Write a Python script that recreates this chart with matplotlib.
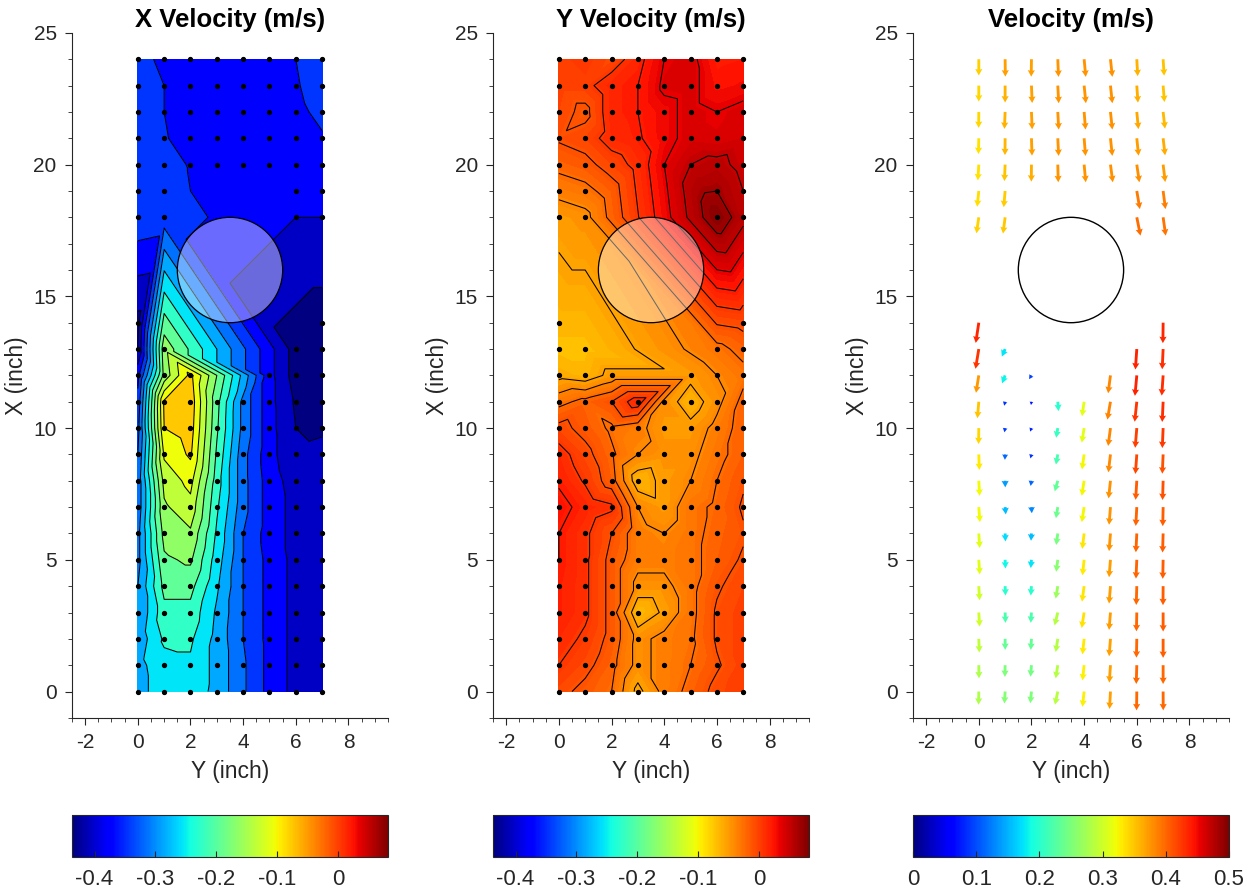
import numpy as np
import matplotlib.pyplot as plt
import matplotlib.tri as mtri
from matplotlib.patches import Circle
from matplotlib.colors import Normalize
from matplotlib.cm import ScalarMappable
from matplotlib.ticker import MultipleLocator

plt.rcParams['font.family'] = ['Liberation Sans', 'DejaVu Sans']
plt.rcParams['axes.unicode_minus'] = False
plt.rcParams['contour.negative_linestyle'] = 'solid'

nan = np.nan

# probe columns (Y, inch) and probe rows (X, inch)
y_probe = [0, 1, 2, 3, 4, 5, 6, 7]
x_probe = list(range(25))

# X velocity (m/s), one list per X row (0 .. 24), nan = no probe there
vx_rows = [
    [-0.28, -0.255, -0.25, -0.28, -0.325, -0.37, -0.40, -0.40],
    [-0.28, -0.25, -0.245, -0.28, -0.325, -0.37, -0.40, -0.40],
    [-0.29, -0.235, -0.235, -0.28, -0.33, -0.37, -0.40, -0.405],
    [-0.30, -0.22, -0.22, -0.275, -0.33, -0.37, -0.40, -0.405],
    [-0.30, -0.20, -0.20, -0.265, -0.33, -0.37, -0.40, -0.405],
    [-0.31, -0.185, -0.175, -0.255, -0.33, -0.37, -0.40, -0.405],
    [-0.31, -0.17, -0.155, -0.245, -0.33, -0.375, -0.40, -0.405],
    [-0.32, -0.155, -0.13, -0.235, -0.32, -0.375, -0.40, -0.405],
    [-0.32, -0.14, -0.11, -0.225, -0.32, -0.375, -0.405, -0.41],
    [-0.33, -0.115, -0.085, -0.215, -0.32, -0.38, -0.415, -0.41],
    [-0.34, -0.09, -0.075, -0.205, -0.31, -0.38, -0.42, -0.425],
    [-0.35, -0.085, -0.07, -0.20, -0.31, -0.38, -0.425, -0.43],
    [-0.37, -0.17, -0.08, nan, nan, -0.38, -0.435, -0.43],
    [-0.42, -0.16, nan, nan, nan, nan, -0.435, -0.43],
    [-0.43, nan, nan, nan, nan, nan, nan, -0.435],
    [nan] * 8,
    [nan] * 8,
    [nan] * 8,
    [-0.34, -0.345, nan, nan, nan, nan, -0.39, -0.39],
    [-0.335, -0.345, nan, nan, nan, nan, -0.385, -0.385],
    [-0.335, -0.35, -0.362, -0.375, -0.375, -0.375, -0.375, -0.37],
    [-0.335, -0.358, -0.37, -0.375, -0.375, -0.375, -0.37, -0.362],
    [-0.34, -0.36, -0.37, -0.375, -0.375, -0.375, -0.365, -0.355],
    [-0.34, -0.36, -0.37, -0.375, -0.375, -0.375, -0.362, -0.35],
    [-0.345, -0.37, -0.37, -0.375, -0.375, -0.375, -0.36, -0.35],
]

# Y velocity (m/s), same layout
vy_rows = [
    [-0.005, -0.015, -0.025, -0.06, -0.035, -0.02, -0.005, 0.002],
    [0.005, -0.005, -0.02, -0.045, -0.035, -0.025, -0.012, 0.0],
    [0.012, 0.002, -0.015, -0.045, -0.035, -0.028, -0.008, 0.0],
    [0.018, 0.008, -0.015, -0.068, -0.052, -0.03, -0.008, 0.0],
    [0.018, 0.008, -0.015, -0.045, -0.045, -0.03, -0.012, -0.003],
    [0.02, 0.008, -0.015, -0.035, -0.035, -0.03, -0.018, -0.008],
    [0.02, 0.008, -0.01, -0.035, -0.04, -0.03, -0.02, -0.012],
    [0.025, 0.015, 0.008, -0.04, -0.05, -0.03, -0.022, -0.008],
    [0.018, 0.003, -0.018, -0.065, -0.05, -0.04, -0.025, -0.012],
    [0.012, -0.005, -0.022, -0.04, -0.045, -0.045, -0.03, -0.018],
    [-0.005, -0.015, -0.028, -0.035, -0.05, -0.05, -0.035, -0.018],
    [-0.03, -0.02, -0.01, 0.015, -0.045, -0.065, -0.045, -0.02],
    [-0.06, -0.065, -0.05, nan, nan, -0.05, -0.04, -0.03],
    [-0.07, -0.07, nan, nan, nan, nan, -0.03, -0.02],
    [-0.065, nan, nan, nan, nan, nan, nan, -0.005],
    [nan] * 8,
    [nan] * 8,
    [nan] * 8,
    [-0.05, -0.045, nan, nan, nan, nan, 0.078, 0.055],
    [-0.035, -0.03, nan, nan, nan, nan, 0.065, 0.05],
    [-0.02, -0.015, -0.003, 0.01, 0.035, 0.05, 0.055, 0.045],
    [-0.008, -0.003, 0.012, 0.018, 0.03, 0.04, 0.038, 0.042],
    [-0.003, -0.015, 0.015, 0.02, 0.03, 0.04, 0.035, 0.04],
    [0.0, 0.0, 0.015, 0.02, 0.038, 0.04, 0.025, 0.028],
    [0.0, 0.005, -0.005, 0.015, 0.035, 0.04, 0.02, 0.022],
]

# cylinder (Y, X, radius) in inch
cyl = (3.5, 16.0, 2.0)

vel_lim = (-0.437, 0.082)
speed_lim = (0.0, 0.5)
vel_ticks = [-0.4, -0.3, -0.2, -0.1, 0]
vel_ticklabels = ['-0.4', '-0.3', '-0.2', '-0.1', '0']
speed_ticks = [0, 0.1, 0.2, 0.3, 0.4, 0.5]
speed_ticklabels = ['0', '0.1', '0.2', '0.3', '0.4', '0.5']
titles = ['X Velocity (m/s)', 'Y Velocity (m/s)', 'Velocity (m/s)']

# scattered probe points
YY, XX = np.meshgrid(y_probe, x_probe)
VX = np.array(vx_rows)
VY = np.array(vy_rows)
ok = ~np.isnan(VX)
py, px = YY[ok], XX[ok]
u, w = VX[ok], VY[ok]
tri = mtri.Triangulation(py, px)

fig = plt.figure(figsize=(12.52, 8.94), dpi=100)
lefts = [0.0575, 0.3938, 0.7292]
axs = [fig.add_axes([l, 0.197, 0.2524, 0.7662]) for l in lefts]
caxs = [fig.add_axes([l, 0.0414, 0.2524, 0.0475]) for l in lefts]

gray = '0.15'

# panel 1: X velocity
ax = axs[0]
lines1 = np.arange(-0.42, 0.07, 0.03)
fill1 = np.concatenate(([-0.5], lines1, [0.1]))
ax.tricontourf(tri, u, levels=fill1, cmap='jet', vmin=vel_lim[0], vmax=vel_lim[1])
ax.tricontour(tri, u, levels=lines1, colors='k', linewidths=0.75)

# panel 2: Y velocity
ax = axs[1]
fill2 = np.linspace(vel_lim[0], vel_lim[1], 105)
lines2 = np.arange(-0.07, 0.08, 0.015)
ax.tricontourf(tri, w, levels=fill2, cmap='jet', vmin=vel_lim[0], vmax=vel_lim[1])
ax.tricontour(tri, w, levels=lines2, colors='k', linewidths=0.75)

for ax in axs[:2]:
    ax.plot(py, px, 'o', color='k', ms=2.8, zorder=4)
    ax.add_patch(Circle(cyl[:2], cyl[2], fc=(1, 1, 1, 0.42), ec='k', lw=0.9, zorder=3))

# panel 3: velocity vectors coloured by speed
ax = axs[2]
spd = np.hypot(u, w)
ax.quiver(py, px, w, u, spd, cmap='jet', clim=speed_lim, angles='xy',
          scale_units='xy', scale=0.56, width=0.009, headwidth=2.5,
          headlength=2.3, headaxislength=2.1, pivot='tail')
ax.add_patch(Circle(cyl[:2], cyl[2], fc='none', ec='k', lw=1.0, zorder=3))

for ax, t in zip(axs, titles):
    ax.set_xlim(-2.5, 9.5)
    ax.set_ylim(-1, 25)
    ax.set_xticks([-2, 0, 2, 4, 6, 8])
    ax.set_yticks([0, 5, 10, 15, 20, 25])
    ax.xaxis.set_minor_locator(MultipleLocator(0.5))
    ax.yaxis.set_minor_locator(MultipleLocator(1))
    ax.spines['top'].set_visible(False)
    ax.spines['right'].set_visible(False)
    for s in ['left', 'bottom']:
        ax.spines[s].set_color(gray)
    ax.tick_params(which='major', direction='out', length=5, labelsize=15, colors=gray, pad=6)
    ax.tick_params(which='minor', direction='out', length=3, colors=gray)
    ax.set_xlabel('Y (inch)', fontsize=16.5, color=gray, labelpad=6)
    ax.set_ylabel('X (inch)', fontsize=16.5, color=gray, labelpad=4)
    ax.set_title(t, fontsize=18.5, fontweight='bold', pad=4)

# colour bars
norm_v = Normalize(*vel_lim)
norm_s = Normalize(*speed_lim)
for i, cax in enumerate(caxs):
    if i < 2:
        cb = fig.colorbar(ScalarMappable(norm_v, 'jet'), cax=cax, orientation='horizontal')
        cb.set_ticks(vel_ticks)
        cb.set_ticklabels(vel_ticklabels)
    else:
        cb = fig.colorbar(ScalarMappable(norm_s, 'jet'), cax=cax, orientation='horizontal')
        cb.set_ticks(speed_ticks)
        cb.set_ticklabels(speed_ticklabels)
    cb.outline.set_edgecolor(gray)
    cb.outline.set_linewidth(0.8)
    cax.tick_params(direction='in', length=4, labelsize=16, colors=gray, pad=9)
    cax.minorticks_off()

fig.savefig('out.png', dpi=100)
